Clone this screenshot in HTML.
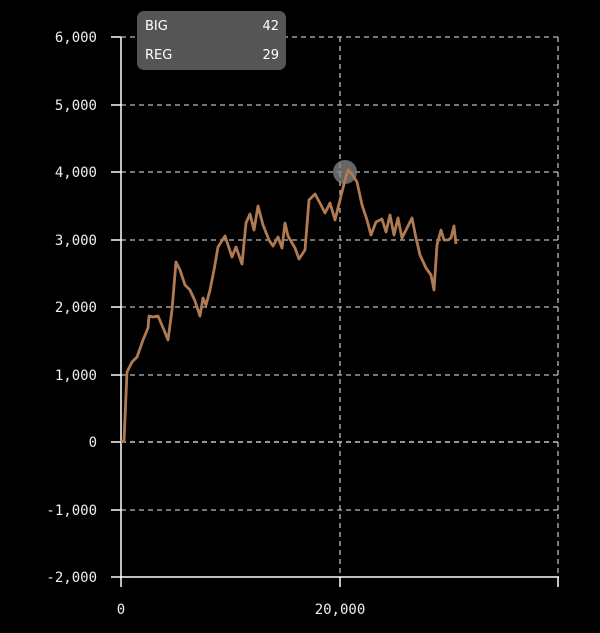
<!DOCTYPE html><html><head><style>body{margin:0;background:#000}</style></head><body>
<svg width="600" height="633" xmlns="http://www.w3.org/2000/svg" style="display:block;background:#000">
<g stroke="#bbb" stroke-width="1.3" stroke-dasharray="5,4" fill="none">
<line x1="121" y1="37" x2="559" y2="37"/><line x1="121" y1="105" x2="559" y2="105"/>
<line x1="121" y1="172" x2="559" y2="172"/><line x1="121" y1="240" x2="559" y2="240"/>
<line x1="121" y1="307" x2="559" y2="307"/><line x1="121" y1="375" x2="559" y2="375"/>
<line x1="121" y1="442" x2="559" y2="442" stroke="#eee"/><line x1="121" y1="510" x2="559" y2="510"/>
<line x1="340" y1="37" x2="340" y2="577"/><line x1="558" y1="37" x2="558" y2="577"/>
</g>
<g stroke="#fff" stroke-width="1.5">
<line x1="121" y1="37" x2="121" y2="578"/><line x1="121" y1="577" x2="559" y2="577"/>
<line x1="111" y1="37" x2="121" y2="37"/><line x1="111" y1="105" x2="121" y2="105"/><line x1="111" y1="172" x2="121" y2="172"/><line x1="111" y1="240" x2="121" y2="240"/><line x1="111" y1="307" x2="121" y2="307"/><line x1="111" y1="375" x2="121" y2="375"/><line x1="111" y1="442" x2="121" y2="442"/><line x1="111" y1="510" x2="121" y2="510"/><line x1="111" y1="577" x2="121" y2="577"/>
<line x1="121" y1="577" x2="121" y2="587"/><line x1="340" y1="577" x2="340" y2="587"/><line x1="558" y1="577" x2="558" y2="587"/>
</g>
<g fill="#eee" font-family="DejaVu Sans Mono, Liberation Mono, monospace" font-size="14" text-anchor="end">
<text x="97" y="42">6,000</text><text x="97" y="110">5,000</text><text x="97" y="177">4,000</text><text x="97" y="245">3,000</text><text x="97" y="312">2,000</text><text x="97" y="380">1,000</text><text x="97" y="447">0</text><text x="97" y="515">-1,000</text><text x="97" y="582">-2,000</text>
</g>
<g fill="#eee" font-family="DejaVu Sans Mono, Liberation Mono, monospace" font-size="14" text-anchor="middle">
<text x="121" y="614">0</text><text x="340" y="614">20,000</text>
</g>
<circle cx="345" cy="172" r="12" fill="#888" opacity="0.75"/>
<polyline fill="none" stroke="#b07a52" stroke-width="2.8" stroke-linejoin="round" points="121,442 124,441 127,372 132,362 137,357 143,340 148,328 149,316 153,317 158,316 164,330 168,340 172,310 176,262 180,270 185,285 190,290 195,301 200,316 203,298 206,305 210,290 214,270 218,247 225,236 232,257 236,247 242,264 246,223 250,214 254,230 258,206 263,225 269,240 273,246 278,237 282,248 285,223 288,236 295,248 299,259 305,250 309,200 315,194 321,205 325,213 330,203 335,220 340,200 345,180 348,170 352,174 357,182 362,205 367,220 371,235 376,222 382,219 386,232 390,215 394,235 398,218 402,238 407,228 412,218 416,238 420,255 426,268 431,275 434,290 437,245 441,230 444,240 448,240 451,238 454,226 456,244"/>
<rect x="137" y="11" width="149" height="59" rx="7" fill="#555"/>
<g fill="#fff" font-family="DejaVu Sans, sans-serif" font-size="13">
<text x="145" y="30">BIG</text><text x="145" y="59">REG</text>
<text x="279" y="30" text-anchor="end">42</text><text x="279" y="59" text-anchor="end">29</text>
</g>
</svg></body></html>
